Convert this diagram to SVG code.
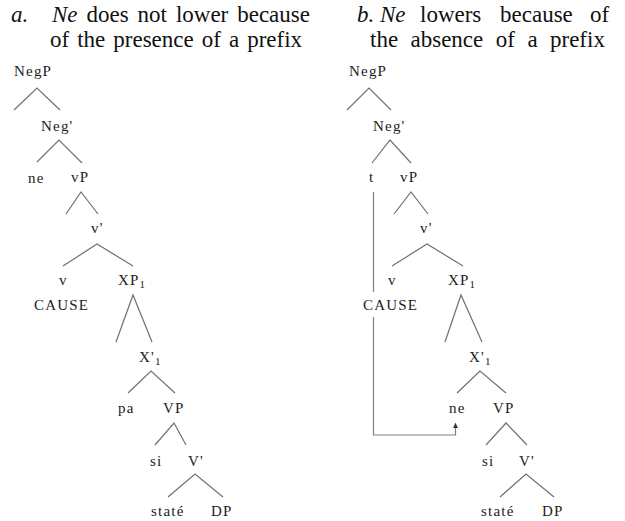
<svg xmlns="http://www.w3.org/2000/svg" width="625" height="521" viewBox="0 0 625 521">
<style>
.hd{font-family:"Liberation Serif","Times New Roman",serif;font-size:23px;fill:#111}
.it{font-style:italic}
.lb{font-family:"Liberation Serif","Times New Roman",serif;font-size:15px;letter-spacing:1.2px;fill:#222}
.sub{font-size:11px;letter-spacing:0}
.br{stroke:#707070;stroke-width:1.2;fill:none}
.mv{stroke:#808080;stroke-width:1.2;fill:none}
</style>
<defs>
<marker id="ah" viewBox="0 0 6 6" refX="6" refY="3" markerWidth="6" markerHeight="5" orient="auto" markerUnits="userSpaceOnUse">
<path d="M0,0 L6,3 L0,6 Z" fill="#333"/>
</marker>
</defs>
<rect width="625" height="521" fill="#fff"/>
<g id="heading-a">
<text class="hd it" x="11" y="22">a.</text>
<text class="hd" y="22"><tspan class="it" x="52">Ne</tspan><tspan x="86.5">does</tspan><tspan x="137.6">not</tspan><tspan x="175.9">lower</tspan><tspan x="237.2">because</tspan></text>
<text class="hd" y="47"><tspan x="50">of</tspan><tspan x="77.2">the</tspan><tspan x="113.3">presence</tspan><tspan x="201.8">of</tspan><tspan x="229">a</tspan><tspan x="247.2">prefix</tspan></text>
</g>
<g id="heading-b">
<text class="hd it" x="357" y="22">b.</text>
<text class="hd" y="22"><tspan class="it" x="380">Ne</tspan><tspan x="420">lowers</tspan><tspan x="500">because</tspan><tspan x="590">of</tspan></text>
<text class="hd" y="47"><tspan x="370">the</tspan><tspan x="410.5">absence</tspan><tspan x="495.8">of</tspan><tspan x="527.4">a</tspan><tspan x="550">prefix</tspan></text>
</g>
<g id="connectors">
<polyline class="br" points="14,110 37,88 60,110"/>
<polyline class="br" points="37,162 59,140 82,163"/>
<polyline class="br" points="66,214 81,192 98,214"/>
<polyline class="br" points="63,266 97,244 133,266"/>
<polyline class="br" points="116,342 133,295 152,342"/>
<polyline class="br" points="128,393 151,371 175,393"/>
<polyline class="br" points="155,445 174,423 186,445"/>
<polyline class="br" points="168,497 195,474 223,497"/>
<polyline class="br" points="347,110 369,88 391,110"/>
<polyline class="br" points="372,163 390,140 411,163"/>
<polyline class="br" points="394,214 411,192 428,214"/>
<polyline class="br" points="392,266 427,244 463,266"/>
<polyline class="br" points="445,342 461,295 482,342"/>
<polyline class="br" points="457,393 480,371 506,393"/>
<polyline class="br" points="486,445 506,423 527,445"/>
<polyline class="br" points="500,497 526,474 554,497"/>
<line class="mv" x1="373.5" y1="192" x2="373.5" y2="292"/>
<polyline class="mv" points="373.5,317 373.5,435 455.5,435 455.5,423" marker-end="url(#ah)"/>
</g>
<g id="tree-a">
<g id="a-NegP"><text class="lb" x="14" y="76">NegP</text></g>
<g id="a-Negbar"><text class="lb" x="41" y="131">Neg'</text></g>
<g id="a-ne"><text class="lb" x="28" y="183">ne</text></g>
<g id="a-vP"><text class="lb" x="71" y="182">vP</text></g>
<g id="a-vbar"><text class="lb" x="91" y="233">v'</text></g>
<g id="a-v"><text class="lb" x="59" y="285">v</text></g>
<g id="a-XP1"><text class="lb" x="118" y="285">XP<tspan class="sub" dy="3">1</tspan></text></g>
<g id="a-CAUSE"><text class="lb" x="34" y="310">CAUSE</text></g>
<g id="a-Xbar1"><text class="lb" x="139" y="362">X'<tspan class="sub" dy="3">1</tspan></text></g>
<g id="a-pa"><text class="lb" x="118" y="413">pa</text></g>
<g id="a-VP"><text class="lb" x="163" y="413">VP</text></g>
<g id="a-si"><text class="lb" x="150" y="466">si</text></g>
<g id="a-Vbar"><text class="lb" x="188" y="466">V'</text></g>
<g id="a-state"><text class="lb" x="151" y="516">staté</text></g>
<g id="a-DP"><text class="lb" x="211" y="516">DP</text></g>
</g>
<g id="tree-b">
<g id="b-NegP"><text class="lb" x="349" y="76">NegP</text></g>
<g id="b-Negbar"><text class="lb" x="373" y="131">Neg'</text></g>
<g id="b-t"><text class="lb" x="369" y="182">t</text></g>
<g id="b-vP"><text class="lb" x="400" y="182">vP</text></g>
<g id="b-vbar"><text class="lb" x="420" y="233">v'</text></g>
<g id="b-v"><text class="lb" x="388" y="285">v</text></g>
<g id="b-XP1"><text class="lb" x="448" y="285">XP<tspan class="sub" dy="3">1</tspan></text></g>
<g id="b-CAUSE"><text class="lb" x="363" y="310">CAUSE</text></g>
<g id="b-Xbar1"><text class="lb" x="469" y="362">X'<tspan class="sub" dy="3">1</tspan></text></g>
<g id="b-ne"><text class="lb" x="449" y="413">ne</text></g>
<g id="b-VP"><text class="lb" x="493" y="413">VP</text></g>
<g id="b-si"><text class="lb" x="482" y="466">si</text></g>
<g id="b-Vbar"><text class="lb" x="519" y="466">V'</text></g>
<g id="b-state"><text class="lb" x="481" y="516">staté</text></g>
<g id="b-DP"><text class="lb" x="542" y="516">DP</text></g>
</g>
</svg>
